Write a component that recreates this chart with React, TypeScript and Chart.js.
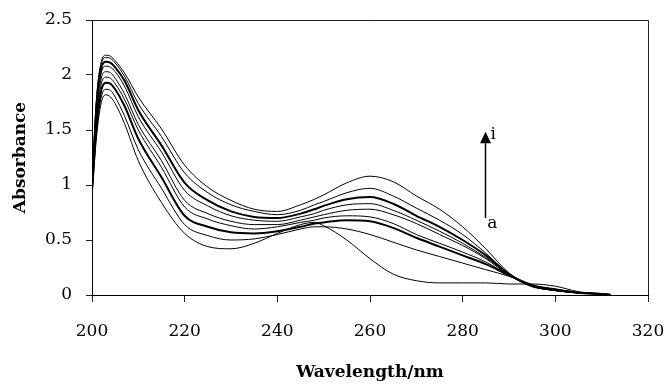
import React, { useEffect, useRef } from "react";
import { Chart, registerables } from "chart.js";

Chart.register(...registerables);

const wavelengths = [200, 201, 202, 203, 204, 205, 207, 210, 215, 220, 225, 230, 235, 240, 245, 248, 250, 255, 260, 265, 270, 275, 280, 285, 290, 295, 300, 305, 310, 312];

const seriesA = [0.92, 1.45, 1.75, 1.82, 1.8, 1.74, 1.56, 1.22, 0.84, 0.56, 0.44, 0.42, 0.47, 0.56, 0.64, 0.66, 0.63, 0.5, 0.33, 0.19, 0.13, 0.11, 0.11, 0.11, 0.1, 0.1, 0.08, 0.03, 0.01, 0];
const seriesB = [0.93, 1.5, 1.8, 1.87, 1.86, 1.8, 1.63, 1.32, 0.97, 0.64, 0.54, 0.5, 0.51, 0.55, 0.6, 0.62, 0.62, 0.6, 0.55, 0.48, 0.41, 0.35, 0.29, 0.23, 0.17, 0.09, 0.05, 0.02, 0.01, 0];
const seriesC = [0.94, 1.55, 1.86, 1.93, 1.92, 1.87, 1.72, 1.42, 1.07, 0.72, 0.62, 0.57, 0.56, 0.58, 0.62, 0.65, 0.66, 0.68, 0.67, 0.61, 0.52, 0.44, 0.36, 0.28, 0.18, 0.09, 0.05, 0.02, 0.01, 0];
const seriesD = [0.95, 1.6, 1.92, 1.98, 1.97, 1.92, 1.78, 1.5, 1.16, 0.8, 0.69, 0.63, 0.6, 0.62, 0.66, 0.68, 0.7, 0.72, 0.71, 0.65, 0.55, 0.47, 0.39, 0.3, 0.18, 0.08, 0.04, 0.02, 0.01, 0];
const seriesE = [0.96, 1.65, 1.97, 2.03, 2.02, 1.97, 1.83, 1.55, 1.22, 0.86, 0.74, 0.67, 0.64, 0.64, 0.68, 0.71, 0.73, 0.77, 0.78, 0.73, 0.65, 0.55, 0.45, 0.33, 0.18, 0.08, 0.04, 0.02, 0.01, 0];
const seriesF = [0.97, 1.7, 2.02, 2.08, 2.07, 2.03, 1.9, 1.62, 1.3, 0.95, 0.81, 0.72, 0.68, 0.67, 0.71, 0.74, 0.77, 0.82, 0.83, 0.77, 0.68, 0.58, 0.47, 0.34, 0.19, 0.08, 0.05, 0.02, 0.01, 0];
const seriesG = [0.98, 1.74, 2.06, 2.12, 2.11, 2.07, 1.95, 1.68, 1.36, 1.02, 0.86, 0.76, 0.71, 0.7, 0.74, 0.78, 0.81, 0.87, 0.89, 0.83, 0.72, 0.62, 0.5, 0.36, 0.19, 0.08, 0.05, 0.02, 0.01, 0];
const seriesH = [0.99, 1.78, 2.1, 2.16, 2.15, 2.11, 1.99, 1.74, 1.44, 1.11, 0.93, 0.82, 0.76, 0.73, 0.77, 0.82, 0.85, 0.93, 0.97, 0.9, 0.79, 0.68, 0.55, 0.38, 0.19, 0.08, 0.04, 0.02, 0.01, 0];
const seriesI = [1.0, 1.8, 2.12, 2.18, 2.17, 2.13, 2.02, 1.8, 1.51, 1.18, 0.98, 0.86, 0.78, 0.76, 0.82, 0.87, 0.91, 1.02, 1.08, 1.03, 0.9, 0.78, 0.62, 0.42, 0.2, 0.08, 0.04, 0.02, 0.01, 0];

const seriesList = [seriesA, seriesB, seriesC, seriesD, seriesE, seriesF, seriesG, seriesH, seriesI];
const seriesNames = ["a", "b", "c", "d", "e", "f", "g", "h", "i"];
const seriesWidths = [1, 1, 2, 1, 1, 1, 2, 1, 1];

const xTicks = [200, 220, 240, 260, 280, 300, 320];
const yTicks = [0, 0.5, 1, 1.5, 2, 2.5];
const yTickLabels = ["0", "0.5", "1", "1.5", "2", "2.5"];

// arrow annotation (data coordinates)
const arrowX = 284.8;
const arrowFrom = 0.7;
const arrowTip = 1.485;
const arrowBase = 1.38;
const labelTop = { text: "i", x: 286.6, y: 1.455 };
const labelBottom = { text: "a", x: 286.4, y: 0.65 };

const FONT = "'DejaVu Serif', 'Liberation Serif', serif";

const framePlugin = {
  id: "frameAndArrow",
  afterDraw(chart: any) {
    const { ctx, chartArea, scales } = chart;
    const xs = scales.x;
    const ys = scales.y;
    ctx.save();
    ctx.strokeStyle = "#222";
    ctx.lineWidth = 1;
    ctx.beginPath();
    ctx.moveTo(chartArea.left, chartArea.top + 0.5);
    ctx.lineTo(chartArea.right + 0.5, chartArea.top + 0.5);
    ctx.lineTo(chartArea.right + 0.5, chartArea.bottom);
    ctx.stroke();

    // arrow
    const ax = Math.round(xs.getPixelForValue(arrowX)) + 0.5;
    const y0 = ys.getPixelForValue(arrowFrom);
    const yb = ys.getPixelForValue(arrowBase);
    const yt = ys.getPixelForValue(arrowTip);
    ctx.strokeStyle = "#000";
    ctx.lineWidth = 1.5;
    ctx.beginPath();
    ctx.moveTo(ax, y0);
    ctx.lineTo(ax, yb);
    ctx.stroke();
    ctx.fillStyle = "#000";
    ctx.beginPath();
    ctx.moveTo(ax, yt);
    ctx.lineTo(ax - 5.5, yb);
    ctx.lineTo(ax + 5.5, yb);
    ctx.closePath();
    ctx.fill();

    ctx.font = `17px ${FONT}`;
    ctx.textAlign = "center";
    ctx.textBaseline = "middle";
    for (const l of [labelTop, labelBottom]) {
      ctx.fillText(l.text, xs.getPixelForValue(l.x), ys.getPixelForValue(l.y));
    }
    ctx.restore();
  },
};

export default function App() {
  const ref = useRef<HTMLCanvasElement | null>(null);

  useEffect(() => {
    document.body.style.margin = "0";
    const canvas = ref.current;
    if (!canvas) return;
    const chart = new Chart(canvas, {
      type: "line",
      data: {
        datasets: seriesList.map((s, k) => ({
          label: seriesNames[k],
          data: wavelengths.map((w, j) => ({ x: w, y: s[j] })),
          borderColor: "#000",
          borderWidth: seriesWidths[k],
          pointRadius: 0,
          fill: false,
          cubicInterpolationMode: "monotone" as const,
        })),
      },
      options: {
        responsive: false,
        animation: false,
        events: [],
        layout: { padding: { left: 0, right: 19, top: 20, bottom: 0 } },
        plugins: {
          legend: { display: false },
          tooltip: { enabled: false },
          title: { display: false },
        },
        scales: {
          x: {
            type: "linear",
            min: 200,
            max: 320,
            afterBuildTicks: (scale: any) => {
              scale.ticks = xTicks.map((v) => ({ value: v }));
            },
            afterFit: (scale: any) => {
              scale.height = 90;
              scale.paddingLeft = 0;
              scale.paddingRight = 0;
            },
            grid: {
              display: true,
              drawOnChartArea: false,
              drawTicks: true,
              tickLength: 7,
              color: "#222",
            },
            border: { display: true, color: "#000", width: 1 },
            ticks: {
              color: "#000",
              padding: 19,
              maxRotation: 0,
              font: { family: FONT, size: 17 },
              callback: (v: any) => String(v),
            },
            title: {
              display: true,
              text: "Wavelength/nm",
              color: "#000",
              font: { family: FONT, size: 17, weight: "bold" },
              padding: { top: 0, bottom: 2 },
            },
          },
          y: {
            type: "linear",
            min: 0,
            max: 2.5,
            afterBuildTicks: (scale: any) => {
              scale.ticks = yTicks.map((v) => ({ value: v }));
            },
            afterFit: (scale: any) => {
              scale.width = 92;
              scale.paddingTop = 0;
              scale.paddingBottom = 0;
            },
            grid: {
              display: true,
              drawOnChartArea: false,
              drawTicks: true,
              tickLength: 6,
              color: "#222",
            },
            border: { display: true, color: "#000", width: 1 },
            ticks: {
              color: "#000",
              padding: 14,
              font: { family: FONT, size: 17 },
              callback: (v: any) => {
                const idx = yTicks.indexOf(Number(v));
                return idx >= 0 ? yTickLabels[idx] : String(v);
              },
            },
            title: {
              display: true,
              text: "Absorbance",
              color: "#000",
              font: { family: FONT, size: 17, weight: "bold" },
              padding: { top: 10, bottom: 0 },
            },
          },
        },
      },
      plugins: [framePlugin],
    });
    return () => chart.destroy();
  }, []);

  return (
    <div style={{ width: 667, height: 385 }}>
      <canvas ref={ref} width={667} height={385} />
    </div>
  );
}
